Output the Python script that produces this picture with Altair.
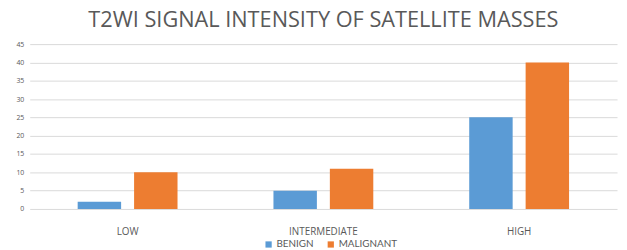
import altair as alt
import pandas as pd

categories = ["LOW", "INTERMEDIATE", "HIGH"]
series = ["BENIGN", "MALIGNANT"]
benign = [2, 5, 25]
malignant = [10, 11, 40]
y_ticks = [0, 5, 10, 15, 20, 25, 30, 35, 40, 45]

rows = []
for c, b, m in zip(categories, benign, malignant):
    rows.append({"cat": c, "series": "BENIGN", "value": b})
    rows.append({"cat": c, "series": "MALIGNANT", "value": m})
df = pd.DataFrame(rows)

FONT = "Open Sans"
GRAY = "#595959"

chart = alt.Chart(df).mark_bar().encode(
    x=alt.X("cat:N", sort=categories, title=None,
            scale=alt.Scale(paddingInner=0.49, paddingOuter=0.245),
            axis=alt.Axis(labelAngle=0, ticks=False, domain=False, labelFontSize=10,
                          labelColor=GRAY, labelFont=FONT, labelPadding=18)),
    xOffset=alt.XOffset("series:N", sort=series,
                        scale=alt.Scale(paddingInner=0.23, paddingOuter=0)),
    y=alt.Y("value:Q", title=None,
            scale=alt.Scale(domain=[0, 45], nice=False),
            axis=alt.Axis(values=y_ticks, ticks=False, domain=False, labelFontSize=7,
                          labelColor=GRAY, labelFont=FONT, labelPadding=6,
                          gridColor="#d9d9d9", gridWidth=1)),
    color=alt.Color("series:N", sort=series,
                    scale=alt.Scale(domain=series, range=["#5B9BD5", "#ED7D31"]),
                    legend=alt.Legend(title=None, orient="none", direction="horizontal",
                                      legendX=237, legendY=198, symbolType="square",
                                      symbolSize=40, labelFontSize=10, labelColor=GRAY,
                                      labelFont="Lato", columnPadding=12, labelOffset=3,
                                      symbolStrokeWidth=0)),
).properties(
    width=595,
    height=167,
    autosize=alt.AutoSizeParams(type="none"),
    padding={"left": 22, "top": 35, "right": 2, "bottom": 40},
    title=alt.TitleParams("T2WI SIGNAL INTENSITY OF SATELLITE MASSES", fontSize=22,
                          font=FONT, fontWeight="normal", color=GRAY,
                          anchor="middle", offset=8),
).configure_view(stroke=None)

chart.save("out.html", embed_options={"renderer": "svg", "actions": False})
